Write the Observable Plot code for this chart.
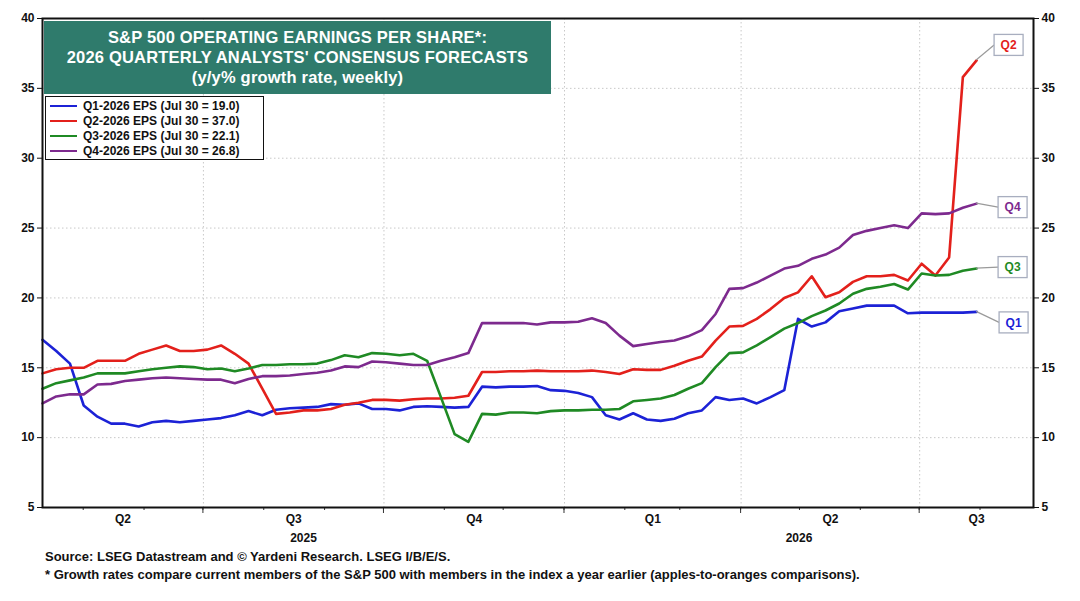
<!DOCTYPE html>
<html>
<head>
<meta charset="utf-8">
<script src="https://cdn.jsdelivr.net/npm/d3@7"></script>
<script src="https://cdn.jsdelivr.net/npm/@observablehq/plot@0.6"></script>
<style>
  html, body { margin: 0; padding: 0; background: #fff; }
  #wrap { position: relative; width: 1080px; height: 601px; font-family: "Liberation Sans", Arial, sans-serif; }
  #title { position: absolute; left: 44px; top: 21px; width: 507px; height: 73px; background: #2f7b6c;
           color: #fff; font-weight: bold; font-size: 16.5px; text-align: center; line-height: 20px; padding-top: 6px; box-sizing: border-box; letter-spacing: 0.2px; }
  #legend { position: absolute; left: 45px; top: 96px; width: 219px; height: 64px; background: #fff;
            border: 1.5px solid #111; box-sizing: border-box; padding-top: 1px; }
  .lrow { display: flex; align-items: center; height: 15px; font-size: 12px; font-weight: bold; color: #111; }
  .lsw { width: 27px; height: 0; border-top: 2.5px solid; margin: 0 6px 0 4px; }
  #footer { position: absolute; left: 45px; top: 548px; font-family: "Liberation Sans Narrow", "Liberation Sans", Arial, sans-serif;
            font-weight: bold; font-size: 13px; color: #111; line-height: 18px; }
</style>
</head>
<body>
<div id="wrap">
  <div id="chart"></div>
  <div id="title"></div>
  <div id="legend"></div>
  <div id="footer"></div>
</div>
<script>
// ---- data (weekly, Thursdays, starting Apr 10 2025 through Jul 30 2026) ----
const startDate = "2025-04-10";
const q1_2026 = [17.0,16.2,15.3,12.3,11.5,11.0,11.0,10.8,11.1,11.2,11.1,11.2,11.3,11.4,
  11.6,11.9,11.6,12.0,12.1,12.15,12.2,12.4,12.35,12.45,12.05,12.05,11.95,12.2,12.25,12.2,
  12.15,12.2,13.65,13.6,13.65,13.65,13.7,13.4,13.35,13.2,12.9,11.6,11.3,11.75,11.3,11.2,
  11.35,11.75,11.95,12.9,12.7,12.8,12.45,12.9,13.4,18.5,17.95,18.25,19.05,19.25,19.45,
  19.45,19.45,18.9,18.95,18.95,18.95,18.95,19.0];
const q2_2026 = [14.6,14.9,15.0,15.0,15.5,15.5,15.5,16.0,16.3,16.6,16.2,16.2,16.3,16.6,
  16.0,15.3,13.5,11.7,11.8,11.95,11.95,12.05,12.35,12.5,12.7,12.7,12.65,12.75,12.8,12.8,
  12.85,13.0,14.7,14.7,14.75,14.75,14.8,14.75,14.75,14.75,14.8,14.7,14.55,14.9,14.85,14.85,
  15.15,15.5,15.8,16.95,17.95,18.0,18.5,19.2,20.0,20.4,21.55,20.05,20.4,21.15,21.55,
  21.55,21.65,21.25,22.45,21.6,22.9,35.8,37.0];
const q3_2026 = [13.5,13.9,14.1,14.3,14.6,14.6,14.6,14.75,14.9,15.0,15.1,15.05,14.9,14.95,
  14.75,14.95,15.2,15.2,15.25,15.25,15.3,15.55,15.9,15.75,16.05,16.0,15.9,16.0,15.5,12.9,
  10.25,9.7,11.7,11.65,11.8,11.8,11.75,11.9,11.95,11.95,12.0,12.0,12.05,12.6,12.7,12.8,
  13.05,13.5,13.9,15.05,16.05,16.1,16.6,17.2,17.8,18.2,18.7,19.1,19.6,20.3,20.65,
  20.8,21.0,20.6,21.75,21.6,21.65,21.95,22.1];
const q4_2026 = [12.45,12.95,13.1,13.1,13.8,13.85,14.05,14.15,14.25,14.3,14.25,14.2,14.15,14.15,
  13.9,14.2,14.4,14.4,14.45,14.55,14.65,14.8,15.1,15.05,15.45,15.4,15.3,15.2,15.2,15.5,
  15.75,16.05,18.2,18.2,18.2,18.2,18.1,18.25,18.25,18.3,18.55,18.2,17.3,16.55,16.7,16.85,
  16.95,17.25,17.7,18.85,20.65,20.7,21.1,21.6,22.1,22.3,22.8,23.1,23.6,24.5,24.8,
  25.0,25.2,25.0,26.05,26.0,26.05,26.45,26.75];

const seriesNames = ["Q1-2026 EPS (Jul 30 = 19.0)", "Q2-2026 EPS (Jul 30 = 37.0)",
                     "Q3-2026 EPS (Jul 30 = 22.1)", "Q4-2026 EPS (Jul 30 = 26.8)"];
const seriesShort = ["Q1", "Q2", "Q3", "Q4"];
const seriesValues = [q1_2026, q2_2026, q3_2026, q4_2026];
const seriesColors = ["#1c22d6", "#e3201b", "#1f8a24", "#7d2a8e"];
// label box offsets (px) from the final point
const labelOffsets = [[23, 11], [18, -15], [22, -1], [22, 4]];

const yTicks = [5, 10, 15, 20, 25, 30, 35, 40];
const quarterStarts = ["2025-04-01", "2025-07-01", "2025-10-01", "2026-01-01", "2026-04-01", "2026-07-01", "2026-10-01"];
const quarterLabels = ["Q2", "Q3", "Q4", "Q1", "Q2", "Q3"];
const yearLabels = ["2025", "2026"];
const xDomain = [new Date("2025-04-10"), new Date("2026-08-28")];

const titleLines = ["S&amp;P 500 OPERATING EARNINGS PER SHARE*:", "2026 QUARTERLY ANALYSTS' CONSENSUS FORECASTS", "(y/y% growth rate, weekly)"];
const footerLines = ["Source: LSEG Datastream and © Yardeni Research. LSEG I/B/E/S.",
  "* Growth rates compare current members of the S&amp;P 500 with members in the index a year earlier (apples-to-oranges comparisons)."];

// ---- build table ----
const t0 = new Date(startDate);
const rows = [];
seriesValues.forEach((vals, s) => {
  vals.forEach((v, i) => rows.push({date: d3.utcDay.offset(t0, 7 * i), value: v, series: seriesShort[s]}));
});
const lastPts = seriesValues.map((vals, s) => ({
  date: d3.utcDay.offset(t0, 7 * (vals.length - 1)), value: vals[vals.length - 1],
  label: seriesShort[s], color: seriesColors[s], off: labelOffsets[s]}));

const qStarts = quarterStarts.map(d => new Date(d));
const qMid = quarterLabels.map((q, i) => {
  const a = Math.max(+qStarts[i], +xDomain[0]), b = Math.min(+qStarts[i + 1], +xDomain[1]);
  return {date: new Date((a + b) / 2), label: q};
});
const yMid = yearLabels.map(y => {
  const a = Math.max(+new Date(`${y}-01-01`), +xDomain[0]), b = Math.min(+new Date(`${+y + 1}-01-01`), +xDomain[1]);
  return {date: new Date((a + b) / 2), label: y};
});
const monthTicks = d3.utcMonth.range(xDomain[0], xDomain[1]);
const quarterTicks = qStarts.filter(d => d > xDomain[0] && d < xDomain[1]);

function labelBoxes(data) {
  return (index, scales, values, dims, context) => {
    const g = d3.create("svg:g");
    data.forEach(d => {
      const px = scales.x(d.date), py = scales.y(d.value);
      const bx = px + d.off[0], by = py + d.off[1];
      const w = 29, h = 21;
      g.append("line").attr("x1", px).attr("y1", py).attr("x2", bx).attr("y2", by)
        .attr("stroke", "#9a9a9a").attr("stroke-width", 1.2);
      g.append("rect").attr("x", bx).attr("y", by - h / 2).attr("width", w).attr("height", h)
        .attr("fill", "#fff").attr("stroke", "#a8aebf").attr("stroke-width", 1.3);
      g.append("text").attr("x", bx + w / 2).attr("y", by).attr("dy", "0.35em")
        .attr("text-anchor", "middle").attr("fill", d.color).attr("font-weight", "bold")
        .attr("font-size", 12).attr("font-family", "Liberation Sans, Arial, sans-serif").text(d.label);
    });
    return g.node();
  };
}

function tickRender(len) {
  return (i, s, v, d) => {
    const g = d3.create("svg:g");
    i.forEach(k => g.append("line").attr("x1", v.x[k]).attr("x2", v.x[k])
      .attr("y1", d.height - d.marginBottom).attr("y2", d.height - d.marginBottom + len).attr("stroke", "#333"));
    return g.node();
  };
}

const chart = Plot.plot({
  width: 1080, height: 548,
  marginLeft: 42, marginRight: 47, marginTop: 18, marginBottom: 41,
  style: {fontFamily: "Liberation Sans, Arial, sans-serif", fontSize: "12px", color: "#111", background: "#fff"},
  x: {type: "utc", domain: xDomain, axis: null},
  y: {domain: [5, 40], axis: null},
  color: {domain: seriesShort, range: seriesColors},
  marks: [
    Plot.gridY(yTicks, {stroke: "#c8c8c8", strokeOpacity: 1, strokeDasharray: "1.5,2.5"}),
    Plot.gridX(quarterTicks, {stroke: "#c8c8c8", strokeOpacity: 1, strokeDasharray: "1.5,2.5"}),
    Plot.axisY(yTicks, {anchor: "left", tickSize: 5, tickPadding: 3, fontWeight: "bold", fontSize: 12, label: null}),
    Plot.axisY(yTicks, {anchor: "right", tickSize: 5, tickPadding: 3, fontWeight: "bold", fontSize: 12, label: null}),
    Plot.tickX(monthTicks, {x: d => d, render: tickRender(3)}),
    Plot.tickX(quarterTicks, {x: d => d, render: tickRender(6)}),
    Plot.text(qMid, {x: "date", text: "label", frameAnchor: "bottom", dy: 15, fontWeight: "bold", fontSize: 12,
      fontFamily: "Liberation Sans Narrow, Liberation Sans, Arial"}),
    Plot.text(yMid, {x: "date", text: "label", frameAnchor: "bottom", dy: 34, fontWeight: "bold", fontSize: 12,
      fontFamily: "Liberation Sans Narrow, Liberation Sans, Arial"}),
    Plot.line(rows, {x: "date", y: "value", z: "series", stroke: "series", strokeWidth: 2.6, strokeLinejoin: "round"}),
    Plot.frame({stroke: "#111", strokeWidth: 2}),
    Plot.dot(lastPts, {x: "date", y: "value", r: 0, render: labelBoxes(lastPts)})
  ]
});
document.getElementById("chart").append(chart);

document.getElementById("title").innerHTML = titleLines.map(l => `<div>${l}</div>`).join("");
document.getElementById("legend").innerHTML = seriesNames.map((n, i) =>
  `<div class="lrow"><div class="lsw" style="border-color:${seriesColors[i]}"></div>${n}</div>`).join("");
document.getElementById("footer").innerHTML = footerLines.map(l => `<div>${l}</div>`).join("");
</script>
</body>
</html>
